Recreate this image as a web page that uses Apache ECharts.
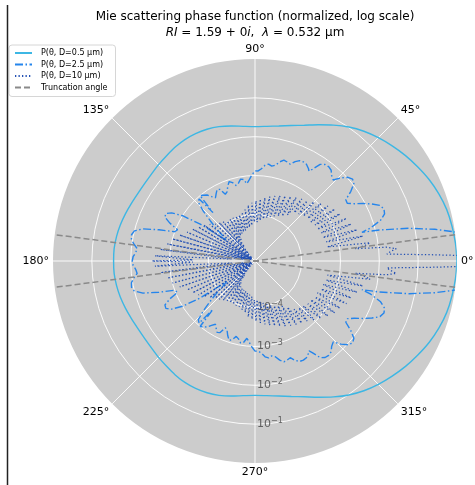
<!DOCTYPE html>
<html>
<head>
<meta charset="utf-8">
<script src="https://cdn.jsdelivr.net/npm/echarts@6/dist/echarts.min.js"></script>
<style>
  html, body { margin: 0; padding: 0; background: #ffffff; }
  #chart { width: 475px; height: 485px; }
</style>
</head>
<body>
<div id="chart"></div>
<script>
// Mie phase functions, scattering angle 0..180 deg, values as log10 of the normalized P(theta).
// The curves are symmetric, so the lower half of the polar plot mirrors the upper half.

// D = 0.5 um  [theta (deg), log10 P]
const phaseD05 = [
  [0, 0.00], [5, -0.02], [10, -0.05], [15, -0.09], [20, -0.16], [25, -0.25],
  [30, -0.36], [35, -0.47], [40, -0.59], [45, -0.71], [50, -0.84], [55, -0.99],
  [60, -1.16], [65, -1.33], [70, -1.48], [75, -1.59], [80, -1.67], [85, -1.72],
  [90, -1.74], [95, -1.72], [100, -1.67], [105, -1.62], [110, -1.59], [115, -1.58],
  [120, -1.59], [125, -1.62], [130, -1.66], [135, -1.69], [140, -1.72], [145, -1.73],
  [150, -1.72], [155, -1.69], [160, -1.65], [165, -1.61], [170, -1.58], [175, -1.56],
  [180, -1.56]
];

// D = 2.5 um
const phaseD25 = [
  [0, 1.50], [2, 1.35], [4, 1.05], [6, 0.60], [8, 0.10], [10, -0.50], [12, -1.15],
  [14, -1.90], [15, -2.35], [16, -2.10], [18, -1.80], [20, -1.65], [22, -1.62],
  [24, -1.68], [26, -1.85], [28, -2.05], [30, -2.25], [32, -2.40], [34, -2.38],
  [36, -2.15], [38, -1.97], [40, -1.92], [42, -1.98], [44, -2.12], [46, -2.30],
  [48, -2.25], [50, -2.15], [52, -2.12], [54, -2.13], [56, -2.20], [58, -2.42],
  [59, -2.50], [60, -2.45], [62, -2.38], [64, -2.36], [66, -2.37], [68, -2.44],
  [70, -2.55], [72, -2.52], [74, -2.50], [76, -2.57], [78, -2.68], [80, -2.72],
  [82, -2.68], [84, -2.72], [86, -2.82], [88, -2.88], [90, -2.88], [92, -2.98],
  [94, -3.10], [96, -3.20], [98, -3.08], [100, -3.06], [102, -3.15], [104, -3.20],
  [106, -3.10], [108, -3.05], [110, -3.15], [112, -3.28], [114, -3.32], [116, -3.15],
  [118, -3.12], [120, -3.20], [122, -3.28], [124, -3.20], [126, -3.10], [128, -3.05],
  [130, -3.00], [131, -3.55], [132, -3.05], [134, -3.10], [136, -3.35], [138, -3.65],
  [140, -3.90], [142, -4.15], [144, -4.30], [146, -3.50], [148, -3.00], [150, -2.72],
  [152, -2.60], [154, -2.62], [156, -2.80], [158, -3.05], [160, -3.00], [162, -2.60],
  [164, -2.20], [166, -2.00], [168, -1.95], [170, -1.97], [172, -2.05], [174, -2.15],
  [176, -2.12], [178, -2.06], [180, -2.04]
];

// D = 10 um
const phaseD10 = [
  [0, 1.90], [1, 1.20], [2, -0.60], [3, -1.80], [4, -1.70], [5, -1.55], [6, -1.80],
  [7, -2.60], [8, -2.35], [9, -2.20], [11, -3.30], [13, -2.35], [15, -3.30],
  [17, -2.45], [19, -3.35], [21, -2.55], [23, -3.35], [25, -2.60], [27, -3.40],
  [29, -2.70], [31, -3.40], [33, -2.75], [35, -3.45], [37, -2.85], [39, -3.45],
  [41, -2.95], [43, -3.50], [45, -3.05], [47, -3.55], [49, -3.15], [51, -3.60],
  [53, -3.20], [55, -3.75], [57, -3.25], [59, -3.85], [61, -3.30], [63, -3.90],
  [65, -3.35], [67, -3.95], [69, -3.40], [71, -4.00], [73, -3.45], [75, -4.05],
  [77, -3.50], [79, -4.10], [81, -3.55], [83, -4.15], [85, -3.60], [87, -4.20],
  [89, -3.65], [91, -4.20], [93, -3.70], [95, -4.28], [97, -3.75], [99, -4.32],
  [101, -3.85], [103, -4.35], [105, -3.90], [107, -4.38], [109, -3.95], [111, -4.40],
  [113, -3.95], [115, -4.42], [117, -3.95], [119, -4.45], [121, -3.95], [123, -4.55],
  [125, -3.95], [127, -4.75], [129, -3.90], [131, -4.95], [133, -3.85], [135, -5.10],
  [137, -3.80], [139, -5.10], [141, -3.70], [143, -5.10], [145, -3.60], [147, -5.10],
  [149, -3.50], [151, -5.10], [153, -3.40], [155, -5.10], [157, -3.30], [159, -5.10],
  [161, -3.15], [163, -5.10], [165, -3.00], [167, -5.00], [169, -2.90], [171, -4.90],
  [173, -2.75], [175, -4.60], [177, -2.62], [179, -3.60], [180, -2.55]
];

// Truncation angle (deg) and radial scale
const truncationAngle = 7.5;
const radialMinExp = -5.2;
const radialMaxExp = 0;
const radialTickExps = [-4, -3, -2, -1];
const angleTicks = [0, 45, 90, 135, 180, 225, 270, 315];

const rMin = Math.pow(10, radialMinExp);
const rMax = Math.pow(10, radialMaxExp);

// [theta, log10 P] for 0..180 -> [P, angle] around the full circle
function fullCircle(pairs) {
  const upper = pairs.map(p => [Math.pow(10, p[1]), p[0]]);
  const lower = pairs.slice(0, -1).reverse().map(p => [Math.pow(10, p[1]), 360 - p[0]]);
  return upper.concat(lower);
}

const font = 'DejaVu Sans';
const colD05 = '#3db7e4';
const colD25 = '#2585ec';
const colD10 = '#2350b4';
const colTrunc = '#8a8a8a';
const gridCol = '#ffffff';
const clear = 'rgba(0,0,0,0)';

const chart = echarts.init(document.getElementById('chart'), null, { renderer: 'canvas' });

const option = {
  animation: false,
  backgroundColor: '#ffffff',
  title: {
    text: 'Mie scattering phase function (normalized, log scale)\n{i|RI} = 1.59 + 0{i|i},  {i|λ} = 0.532 µm',
    left: 255,
    textAlign: 'center',
    top: 9,
    padding: 0,
    textStyle: {
      fontFamily: font, fontSize: 12, fontWeight: 'normal', color: '#000', lineHeight: 16,
      rich: { i: { fontFamily: font, fontSize: 12, fontStyle: 'italic', color: '#000', lineHeight: 16 } }
    }
  },
  legend: {
    orient: 'vertical',
    left: 9,
    top: 45,
    padding: [4, 8, 5, 5],
    itemGap: 3.5,
    itemWidth: 17,
    itemHeight: 7,
    backgroundColor: '#ffffff',
    borderColor: '#d6d6d6',
    borderWidth: 1,
    borderRadius: 3,
    itemStyle: { opacity: 0 },
    textStyle: { fontFamily: font, fontSize: 8, color: '#000', padding: [0, 0, 0, 4] },
    data: ['P(θ, D=0.5 µm)', 'P(θ, D=2.5 µm)', 'P(θ, D=10 µm)', 'Truncation angle']
  },
  polar: [
    { center: [255, 261], radius: 202 },
    { center: [255, 261], radius: 202 }
  ],
  angleAxis: [
    {
      // data angles + gray disc + degree labels
      polarIndex: 0,
      type: 'value',
      min: 0, max: 360, interval: 45,
      startAngle: 0, clockwise: false,
      z: 0,
      axisLine: { show: false },
      axisTick: { show: false },
      axisLabel: {
        margin: 4, fontFamily: font, fontSize: 11, color: '#000',
        formatter: v => (angleTicks.indexOf(v) >= 0 ? v + '°' : '')
      },
      splitLine: { show: false },
      splitArea: { show: true, areaStyle: { color: ['#cccccc'] } }
    },
    {
      // white spokes, drawn above the disc
      polarIndex: 1,
      type: 'value',
      min: 0, max: 360, interval: 45,
      startAngle: 270, clockwise: false,
      z: 1,
      axisLine: { show: false },
      axisTick: { show: false },
      axisLabel: { show: false },
      splitLine: { show: true, lineStyle: { color: gridCol, width: 0.9 } },
      splitArea: { show: false }
    }
  ],
  radiusAxis: [
    {
      polarIndex: 0,
      type: 'log',
      logBase: 10,
      min: rMin, max: rMax,
      z: 0,
      axisLine: { show: false },
      axisTick: { show: false },
      axisLabel: { show: false },
      splitLine: { show: false }
    },
    {
      // white rings and the 10^n labels running down from the centre
      polarIndex: 1,
      type: 'log',
      logBase: 10,
      min: rMin, max: rMax,
      z: 1,
      axisLine: { show: false },
      axisTick: { show: false },
      splitLine: {
        show: true,
        lineStyle: { width: 0.9, color: [clear, clear, gridCol, gridCol, gridCol, gridCol, clear] }
      },
      axisLabel: {
        show: true,
        margin: 2,
        fontFamily: font, fontSize: 11, color: '#606060',
        formatter: function (v) {
          const e = Math.log10(v);
          const k = Math.round(e);
          if (Math.abs(e - k) > 1e-6 || radialTickExps.indexOf(k) < 0) return '';
          return '10{sup|−' + (-k) + '}';
        },
        rich: {
          sup: { fontFamily: font, fontSize: 8, color: '#606060', padding: [0, 0, 7, 0] }
        }
      }
    }
  ],
  series: [
    {
      name: 'P(θ, D=0.5 µm)', type: 'line', coordinateSystem: 'polar', polarIndex: 0,
      data: fullCircle(phaseD05), showSymbol: false, symbol: 'none', smooth: 0.3, clip: true,
      lineStyle: { color: colD05, width: 1.4 }, itemStyle: { color: colD05 }, z: 3
    },
    {
      name: 'P(θ, D=2.5 µm)', type: 'line', coordinateSystem: 'polar', polarIndex: 0,
      data: fullCircle(phaseD25), showSymbol: false, symbol: 'none', clip: true,
      lineStyle: { color: colD25, width: 1.4, type: [8, 2.5, 1.5, 2.5] }, itemStyle: { color: colD25 }, z: 4
    },
    {
      name: 'P(θ, D=10 µm)', type: 'line', coordinateSystem: 'polar', polarIndex: 0,
      data: fullCircle(phaseD10), showSymbol: false, symbol: 'none', clip: true,
      lineStyle: { color: colD10, width: 1.25, type: [1.3, 2.2] }, itemStyle: { color: colD10 }, z: 5
    },
    {
      name: 'Truncation angle', type: 'line', coordinateSystem: 'polar', polarIndex: 0,
      data: [[rMax, truncationAngle], [rMin, truncationAngle], [rMax, 180 + truncationAngle]],
      showSymbol: false, symbol: 'none', clip: true,
      lineStyle: { color: colTrunc, width: 1.5, type: [6, 3] }, itemStyle: { color: colTrunc }, z: 6
    },
    {
      name: 'Truncation angle', type: 'line', coordinateSystem: 'polar', polarIndex: 0,
      data: [[rMax, 360 - truncationAngle], [rMin, 360 - truncationAngle], [rMax, 180 - truncationAngle]],
      showSymbol: false, symbol: 'none', clip: true,
      lineStyle: { color: colTrunc, width: 1.5, type: [6, 3] }, itemStyle: { color: colTrunc }, z: 6
    }
  ],
  graphic: [
    {
      type: 'line', silent: true, z: 20,
      shape: { x1: 7.5, y1: 5, x2: 7.5, y2: 485 },
      style: { stroke: '#222222', lineWidth: 1.5 }
    }
  ]
};

chart.setOption(option);
</script>
</body>
</html>
